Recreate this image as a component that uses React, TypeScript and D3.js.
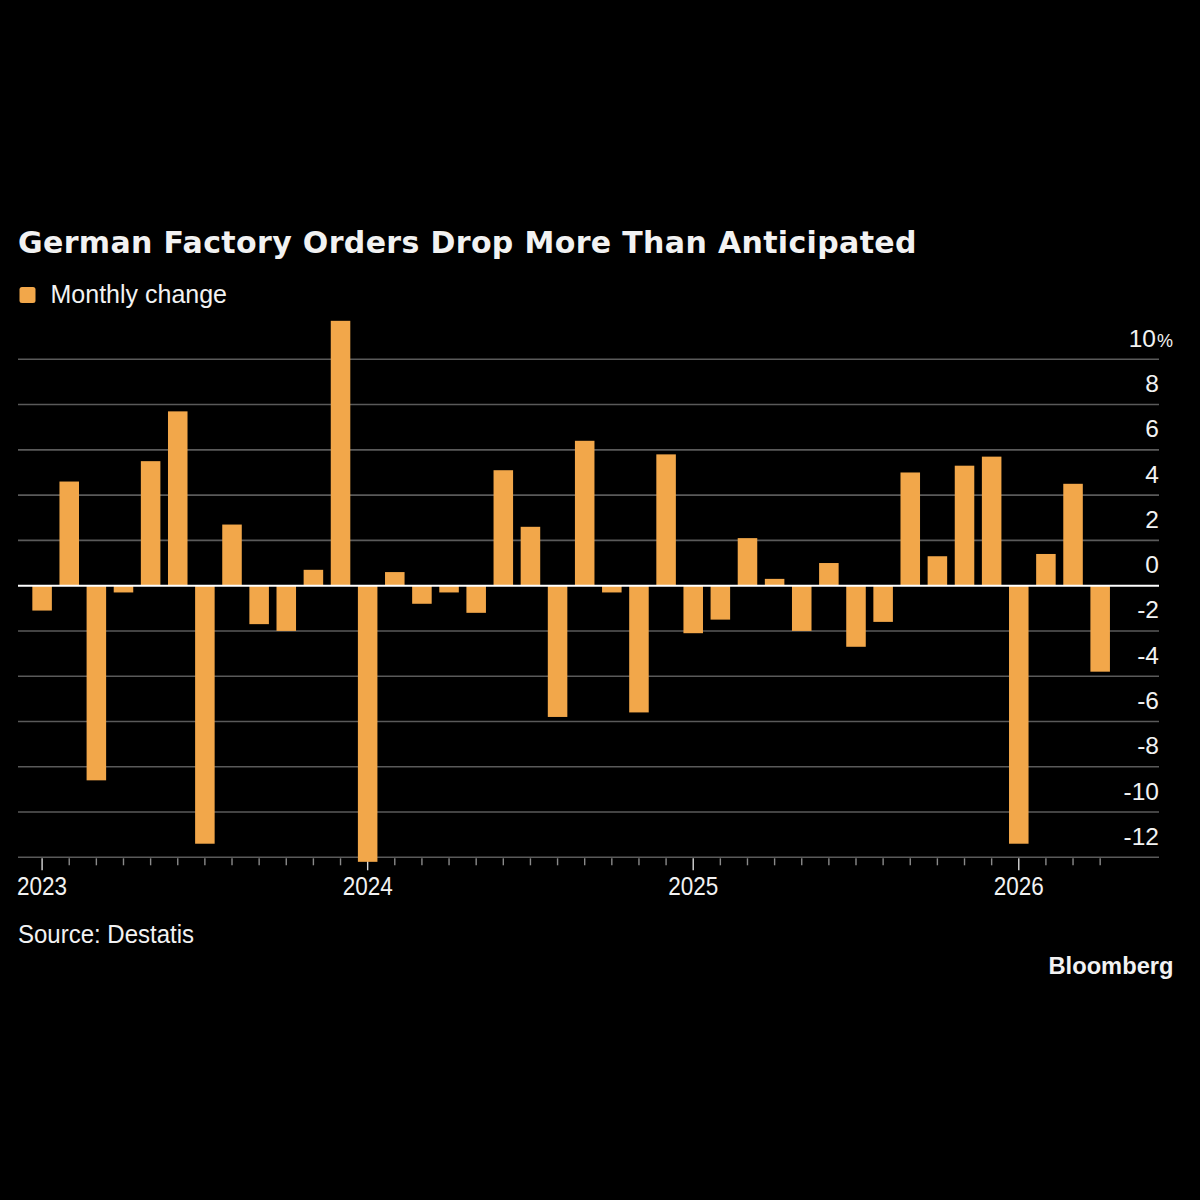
import React from "react";
import * as d3 from "d3";

// Monthly change in German factory orders, %
const months: string[] = [
  "2023-01", "2023-02", "2023-03", "2023-04", "2023-05", "2023-06",
  "2023-07", "2023-08", "2023-09", "2023-10", "2023-11", "2023-12",
  "2024-01", "2024-02", "2024-03", "2024-04", "2024-05", "2024-06",
  "2024-07", "2024-08", "2024-09", "2024-10", "2024-11", "2024-12",
  "2025-01", "2025-02", "2025-03", "2025-04", "2025-05", "2025-06",
  "2025-07", "2025-08", "2025-09", "2025-10", "2025-11", "2025-12",
  "2026-01", "2026-02", "2026-03", "2026-04",
];

const monthlyChange: number[] = [
  -1.1, 4.6, -8.6, -0.3, 5.5, 7.7, -11.4, 2.7, -1.7, -2.0, 0.7, 11.7,
  -12.2, 0.6, -0.8, -0.3, -1.2, 5.1, 2.6, -5.8, 6.4, -0.3, -5.6, 5.8,
  -2.1, -1.5, 2.1, 0.3, -2.0, 1.0, -2.7, -1.6, 5.0, 1.3, 5.3, 5.7,
  -11.4, 1.4, 4.5, -3.8,
];

const yTicks: number[] = [10, 8, 6, 4, 2, 0, -2, -4, -6, -8, -10, -12];

const TITLE = "German Factory Orders Drop More Than Anticipated";
const LEGEND = "Monthly change";
const SOURCE = "Source: Destatis";
const BRAND = "Bloomberg";

const BAR = "#f2a74a";
const GRID = "#5a5a5a";
const TEXT = "#f2f2f2";
const SANS = "'Liberation Sans', Arial, sans-serif";

// Arial-metric text, optionally squeezed horizontally
function Label(props: {
  x: number; y: number; size: number; anchor?: string; sx?: number; children: React.ReactNode;
}) {
  const { x, y, size, anchor = "start", sx = 1, children } = props;
  return (
    <text
      transform={`translate(${x},${y}) scale(${sx},1)`}
      textAnchor={anchor}
      fontFamily={SANS}
      fontSize={size}
      fill={TEXT}
    >
      {children}
    </text>
  );
}

export default function App() {
  const W = 1200;
  const H = 1200;
  const gridLeft = 18;
  const gridRight = 1159;

  const step = 27.13;
  const firstCenter = 42.1;
  const x = d3
    .scaleBand<string>()
    .domain(months)
    .range([firstCenter - step / 2, firstCenter - step / 2 + step * months.length])
    .paddingInner(0.28)
    .paddingOuter(0.14);

  const y = d3.scaleLinear().domain([-12, 10]).range([857.3, 359.3]);
  const y0 = y(0);
  const axisY = y(-12);

  const center = (m: string) => (x(m) ?? 0) + x.bandwidth() / 2;

  return (
    <svg
      width={W}
      height={H}
      viewBox={`0 0 ${W} ${H}`}
      style={{ position: "fixed", left: 0, top: 0, background: "#000" }}
    >
      <rect width={W} height={H} fill="#000" />

      {/* title */}
      <text
        x={18}
        y={253}
        fontFamily="'DejaVu Sans', Verdana, sans-serif"
        fontWeight="bold"
        fontSize={30}
        letterSpacing={0.35}
        fill={TEXT}
      >
        {TITLE}
      </text>

      {/* legend */}
      <rect x={19.5} y={287} width={16} height={16} rx={2.5} fill={BAR} />
      <text x={50.5} y={303} fontFamily={SANS} fontSize={25} fill={TEXT}>
        {LEGEND}
      </text>

      {/* horizontal gridlines */}
      {yTicks.filter((t) => t !== 0).map((t) => (
        <line
          key={`g${t}`}
          x1={gridLeft}
          x2={gridRight}
          y1={y(t)}
          y2={y(t)}
          stroke={GRID}
          strokeWidth={1.6}
        />
      ))}

      {/* month ticks */}
      {months.map((m) => {
        const major = m.endsWith("-01");
        return (
          <line
            key={`t${m}`}
            x1={center(m)}
            x2={center(m)}
            y1={axisY + 1}
            y2={axisY + (major ? 13 : 8)}
            stroke={major ? "#d8d8d8" : "#8a8a8a"}
            strokeWidth={1.4}
          />
        );
      })}

      {/* bars */}
      {months.map((m, i) => {
        const v = monthlyChange[i];
        return (
          <rect
            key={`b${m}`}
            x={x(m)}
            width={x.bandwidth()}
            y={Math.min(y(v), y0)}
            height={Math.abs(y(v) - y0)}
            fill={BAR}
          />
        );
      })}

      {/* zero line */}
      <line x1={gridLeft} x2={gridRight} y1={y0} y2={y0} stroke="#ffffff" strokeWidth={2} />

      {/* y-axis labels */}
      {yTicks.map((t) => (
        <Label
          key={`yl${t}`}
          x={t === 10 ? gridRight - 3 : gridRight}
          y={y(t) - 12.5}
          size={24.5}
          anchor="end"
        >
          {t}
        </Label>
      ))}
      <Label x={gridRight - 2} y={y(10) - 12.5} size={18}>
        %
      </Label>

      {/* year labels */}
      {months.filter((m) => m.endsWith("-01")).map((m) => (
        <Label key={`xl${m}`} x={center(m)} y={894.5} size={25} anchor="middle" sx={0.9}>
          {m.slice(0, 4)}
        </Label>
      ))}

      {/* footer */}
      <Label x={18} y={942.5} size={25} sx={0.96}>
        {SOURCE}
      </Label>
      <text
        x={1173.5}
        y={974.3}
        textAnchor="end"
        fontFamily={SANS}
        fontWeight="bold"
        fontSize={23.7}
        fill={TEXT}
      >
        {BRAND}
      </text>
    </svg>
  );
}
